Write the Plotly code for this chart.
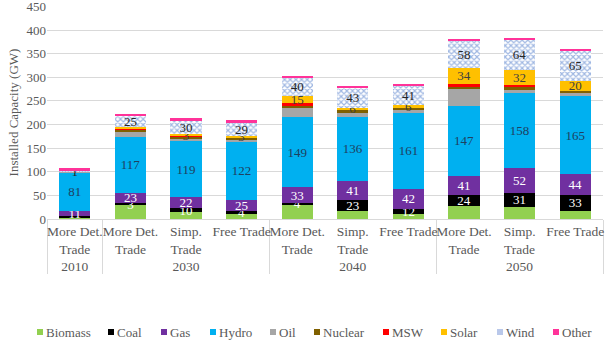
import plotly.graph_objects as go

years = ["2010", "2030", "2030", "2030", "2040", "2040", "2040", "2050", "2050", "2050"]
scenarios = ["More Det.<br>Trade", "More Det.<br>Trade", "Simp.<br>Trade", "Free Trade",
             "More Det.<br>Trade", "Simp.<br>Trade", "Free Trade",
             "More Det.<br>Trade", "Simp.<br>Trade", "Free Trade"]

biomass = [4, 30, 14, 12, 30, 17, 10, 27, 25, 18]
coal = [2, 3, 10, 4, 4, 23, 12, 24, 31, 33]
gas = [11, 23, 22, 25, 33, 41, 42, 41, 52, 44]
hydro = [81, 117, 119, 122, 149, 136, 161, 147, 158, 165]
oil = [2, 11, 6, 6, 20, 9, 6, 36, 8, 8]
nuclear = [0, 5, 4, 4, 4, 4, 4, 5, 5, 4]
msw = [1, 3, 1, 0, 5, 0, 0, 6, 5, 0]
solar = [0, 2, 3, 3, 15, 6, 6, 34, 32, 20]
wind = [1, 25, 30, 29, 40, 43, 41, 58, 64, 65]
other = [5, 4, 4, 4, 3, 3, 3, 3, 3, 3]

y_ticks = [0, 50, 100, 150, 200, 250, 300, 350, 400, 450]

FONT = "Liberation Serif, Times New Roman, serif"
GRAY = "#595959"

series = [
    ("Biomass", biomass, "#92D050", None, None),
    ("Coal", coal, "#000000", "white", 3),
    ("Gas", gas, "#7030A0", "white", 3),
    ("Hydro", hydro, "#00B0F0", "#1F4060", 3),
    ("Oil", oil, "#A6A6A6", None, None),
    ("Nuclear", nuclear, "#806000", None, None),
    ("MSW", msw, "#FF0000", None, None),
    ("Solar", solar, "#FFC000", "#404040", 3),
    ("Wind", wind, "#FFFFFF", "#262626", 1),
    ("Other", other, "#FF3399", None, None),
]

# plot area in pixels (for the custom one-row legend)
PX_L, PX_R, PX_T, PX_B = 47, 603, 6, 219
def px2paper(px, py):
    return (px - PX_L) / (PX_R - PX_L), (PX_B - py) / (PX_B - PX_T)

legend_sym_x = [37, 108, 161, 210, 270, 314, 383, 441, 497, 553]
legend_y = 332
SYM = 6

fig = go.Figure()
shapes, annotations = [], []
for i, (name, vals, color, tcolor, thr) in enumerate(series):
    if thr is not None:
        text = [str(v) if v >= thr else "" for v in vals]
    else:
        text = None
    marker = dict(color=color, line=dict(width=0))
    if name == "Wind":
        marker["pattern"] = dict(shape="x", fgcolor="#3F6FC6", bgcolor="#FFFFFF",
                                 size=4, solidity=0.5)
    fig.add_trace(go.Bar(
        name=name, x=[years, scenarios], y=vals, marker=marker,
        text=text, textposition="inside" if text else "none",
        insidetextanchor="middle", textangle=0,
        insidetextfont=dict(family=FONT, size=13, color=tcolor or "black"),
        hoverinfo="y+name", showlegend=False,
    ))
    sx = legend_sym_x[i]
    x0, y0 = px2paper(sx, legend_y + SYM / 2)
    x1, y1 = px2paper(sx + SYM, legend_y - SYM / 2)
    fill = "#B9C8EA" if name == "Wind" else color
    shapes.append(dict(type="rect", xref="paper", yref="paper", x0=x0, y0=y0, x1=x1, y1=y1,
                       fillcolor=fill, line=dict(width=0), layer="above"))
    tx, ty = px2paper(sx + SYM + 1, legend_y)
    annotations.append(dict(text=name, xref="paper", yref="paper", x=tx, y=ty,
                            xanchor="left", yanchor="middle", showarrow=False,
                            font=dict(family=FONT, size=13, color=GRAY)))

fig.update_layout(
    barmode="stack",
    bargap=0.44,
    width=607, height=353,
    margin=dict(l=PX_L, r=607 - PX_R, t=PX_T, b=353 - PX_B, autoexpand=False),
    paper_bgcolor="white", plot_bgcolor="white",
    font=dict(family=FONT, size=13, color=GRAY),
    uniformtext=dict(minsize=13, mode="show"),
    showlegend=False,
    shapes=shapes,
    annotations=annotations,
)
fig.update_xaxes(
    type="multicategory",
    automargin=False,
    tickangle=0,
    showline=True, linecolor="#D9D9D9", linewidth=1,
    showdividers=True, dividercolor="#D9D9D9", dividerwidth=1,
    tickfont=dict(family=FONT, size=13.5, color=GRAY),
    ticks="",
)
fig.update_yaxes(
    automargin=False,
    range=[0, 451], tickvals=y_ticks,
    ticklabeloverflow="allow",
    showgrid=True, gridcolor="#D9D9D9", gridwidth=1,
    zeroline=False,
    title=dict(text="Installed Capacity (GW)", font=dict(family=FONT, size=13, color=GRAY), standoff=4),
    tickfont=dict(family=FONT, size=13, color=GRAY),
)

fig.write_html("out.html")
